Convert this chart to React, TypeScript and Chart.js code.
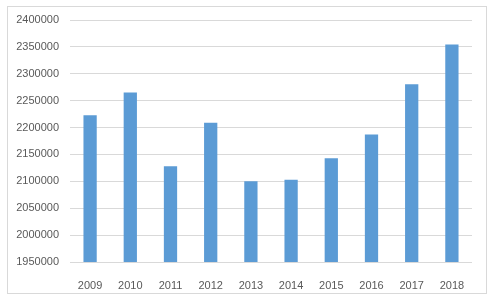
import React, { useEffect, useRef } from "react";
import { Chart, registerables } from "chart.js";

Chart.register(...registerables);

const categories = ["2009", "2010", "2011", "2012", "2013", "2014", "2015", "2016", "2017", "2018"];
const values = [2223000, 2265000, 2128000, 2209000, 2100000, 2103000, 2143000, 2187000, 2280500, 2354500];
const yMin = 1950000;
const yMax = 2400000;
const yStep = 50000;

const borderPlugin = {
  id: "outerBorder",
  beforeDraw(chart: any) {
    const ctx = chart.ctx;
    ctx.save();
    ctx.fillStyle = "#ffffff";
    ctx.fillRect(0, 0, chart.width, chart.height);
    ctx.strokeStyle = "#D9D9D9";
    ctx.lineWidth = 1;
    ctx.strokeRect(7.5, 6.5, 479, 287);
    ctx.restore();
  },
};

export default function App() {
  const ref = useRef<HTMLCanvasElement | null>(null);
  useEffect(() => {
    if (!ref.current) return;
    const font = { family: "'Liberation Sans', Arial, sans-serif", size: 11 };
    const chart = new Chart(ref.current, {
      type: "bar",
      data: {
        labels: categories,
        datasets: [
          {
            data: values,
            backgroundColor: "#5B9BD5",
            borderWidth: 0,
            categoryPercentage: 1,
            barPercentage: 0.33,
          },
        ],
      },
      options: {
        responsive: false,
        animation: false,
        layout: { padding: { left: 0, top: 20, right: 22, bottom: 0 } },
        plugins: { legend: { display: false }, tooltip: { enabled: false } },
        scales: {
          x: {
            grid: { display: false },
            border: { display: false },
            ticks: { color: "#595959", font, padding: 9, maxRotation: 0 },
            afterFit: (s: any) => {
              s.height = 38;
            },
          },
          y: {
            min: yMin,
            max: yMax,
            grid: { color: "#D9D9D9", drawTicks: false },
            border: { display: false },
            ticks: {
              stepSize: yStep,
              color: "#595959",
              font,
              padding: 11,
              callback: (v: any) => String(v),
            },
            afterFit: (s: any) => {
              s.width = 70;
            },
          },
        },
      },
      plugins: [borderPlugin],
    });
    return () => chart.destroy();
  }, []);
  return (
    <div style={{ position: "absolute", left: 0, top: 0, width: 494, height: 300, background: "#fff" }}>
      <canvas ref={ref} width={494} height={300} />
    </div>
  );
}
